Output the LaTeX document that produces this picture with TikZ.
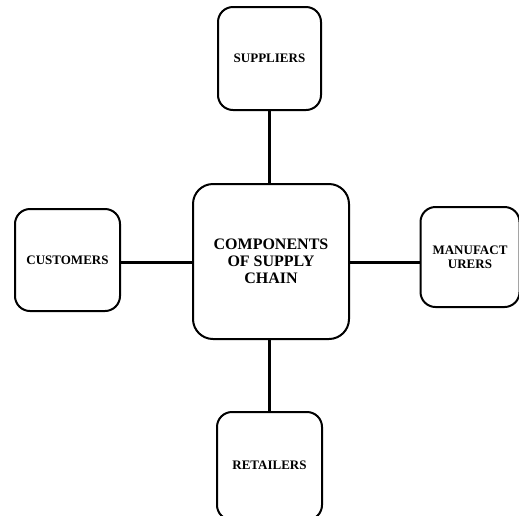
\documentclass[tikz,border=0pt]{standalone}
\usepackage{fontspec}
\setmainfont{Liberation Serif}
\begin{document}
\begin{tikzpicture}[x=1pt,y=-1pt,
  box/.style={draw=black,line width=2pt,rounded corners=15pt,fill=white,
    minimum width=103pt,minimum height=103pt,inner sep=0pt,align=center,
    font=\fontsize{13}{14}\selectfont\bfseries},
  bigbox/.style={box,rounded corners=20pt,minimum width=156pt,minimum height=155pt,
    font=\fontsize{16}{17}\selectfont\bfseries},
  link/.style={line width=3pt}]
\useasboundingbox (0,0) rectangle (519,515);
\clip (0,0) rectangle (519,515);
\node[bigbox] (center) at (271,261.5) {COMPONENTS\\OF SUPPLY\\CHAIN};
\node[box] (sup) at (269.5,58.5) {SUPPLIERS};
\node[box,minimum width=105pt,minimum height=102pt] (cus) at (67.5,260) {CUSTOMERS};
\node[box,minimum width=99pt,minimum height=100pt] (man) at (470,257) {MANUFACT\\URERS};
\node[box,minimum width=105pt,minimum height=108pt] (ret) at (269.5,466) {\raisebox{2.5pt}{RETAILERS}};
\draw[link] (sup.south) -- (sup.south |- center.north);
\draw[link] (ret.north) -- (ret.north |- center.south);
\draw[link] (cus.east |- 0,262) coordinate (c1) -- (c1 -| center.west);
\draw[link] (man.west |- 0,262) coordinate (m1) -- (m1 -| center.east);
\end{tikzpicture}
\end{document}
